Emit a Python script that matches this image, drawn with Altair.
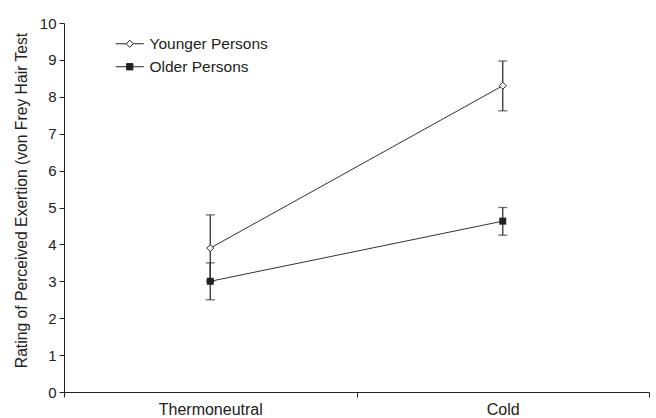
import altair as alt
import pandas as pd

conditions = ["Thermoneutral", "Cold"]
groups = ["Younger Persons", "Older Persons"]
younger_mean = [3.9, 8.3]
younger_lo = [3.0, 7.62]
younger_hi = [4.8, 8.97]
older_mean = [3.0, 4.63]
older_lo = [2.5, 4.25]
older_hi = [3.5, 5.0]

rows = []
for i, c in enumerate(conditions):
    rows.append({"condition": c, "group": groups[0], "mean": younger_mean[i],
                 "lo": younger_lo[i], "hi": younger_hi[i]})
    rows.append({"condition": c, "group": groups[1], "mean": older_mean[i],
                 "lo": older_lo[i], "hi": older_hi[i]})
df = pd.DataFrame(rows)

FONT = "Liberation Sans"
INK = "#222222"
Y_TITLE = "Rating of Perceived Exertion (von Frey Hair Test"

x_scale = alt.Scale(domain=conditions, paddingInner=0, paddingOuter=0)
x_axis = alt.Axis(title=None, tickBand="extent", labelAngle=0, tickSize=5,
                  labelPadding=4, labelFontSize=16, labelFont=FONT,
                  labelColor=INK, domainColor=INK, tickColor=INK, grid=False)
y_scale = alt.Scale(domain=[0, 10], nice=False)
y_axis = alt.Axis(title=Y_TITLE,
                  values=list(range(0, 11)), labelOverlap=False, tickSize=5,
                  labelPadding=3, labelFontSize=15, labelFont=FONT, labelColor=INK,
                  titleFont=FONT, titleFontSize=15.7, titleFontWeight="normal",
                  titleColor=INK, titlePadding=10, titleY=177, domainColor=INK,
                  tickColor=INK, grid=False)


def X():
    return alt.X("condition:N", sort=conditions, scale=x_scale, axis=x_axis, title=None)


def Y(field):
    return alt.Y(field, scale=y_scale, axis=y_axis, title=Y_TITLE)


base = alt.Chart(df)

lines = base.mark_line(color="#333333", strokeWidth=1).encode(
    x=X(), y=Y("mean:Q"), detail="group:N")

err_rule = base.mark_rule(color="#333333", strokeWidth=1.3).encode(
    x=X(), y=Y("lo:Q"), y2="hi:Q", detail="group:N")

caps = base.transform_fold(["lo", "hi"], as_=["end", "val"]).mark_tick(
    color="#333333", orient="horizontal", size=9, thickness=1.3).encode(
    x=X(), y=Y("val:Q"))

young_pts = base.transform_filter(alt.datum.group == groups[0]).mark_point(
    shape="diamond", size=49, fill="white", stroke=INK, strokeWidth=1,
    opacity=1, fillOpacity=1).encode(x=X(), y=Y("mean:Q"))

old_pts = base.transform_filter(alt.datum.group == groups[1]).mark_square(
    size=49, color=INK, opacity=1).encode(x=X(), y=Y("mean:Q"))

path_young = "M-2,0L-0.5,0M0.5,0L2,0M0,-0.5L0.5,0L0,0.5L-0.5,0Z"
path_old = "M-2,0L2,0M-0.45,-0.45L0.45,-0.45L0.45,0.45L-0.45,0.45Z"

legend = alt.Legend(title=None, orient="none", legendX=58, legendY=13,
                    labelFont=FONT, labelFontSize=15.5, labelColor=INK,
                    labelOffset=12, rowPadding=6, padding=0,
                    symbolStrokeWidth=1, symbolSize=196)

legend_carrier = base.transform_filter("datum.mean < 0").mark_point(
    size=196, strokeWidth=1, opacity=1, fillOpacity=1, filled=True).encode(
    x=X(), y=Y("mean:Q"),
    shape=alt.Shape("group:N", scale=alt.Scale(domain=groups, range=[path_young, path_old]),
                    legend=legend),
    fill=alt.Fill("group:N", scale=alt.Scale(domain=groups, range=["white", INK]),
                  legend=legend),
    stroke=alt.Stroke("group:N", scale=alt.Scale(domain=groups, range=[INK, INK]),
                      legend=legend))

chart = alt.layer(lines, err_rule, caps, young_pts, old_pts, legend_carrier).properties(
    width=585, height=369,
    autosize=alt.AutoSizeParams(type="none"),
    padding={"left": 64, "top": 23, "right": 7, "bottom": 26},
    background="white",
).configure_view(stroke=None)

chart.save("out.html", embed_options={"renderer": "svg", "actions": False})
